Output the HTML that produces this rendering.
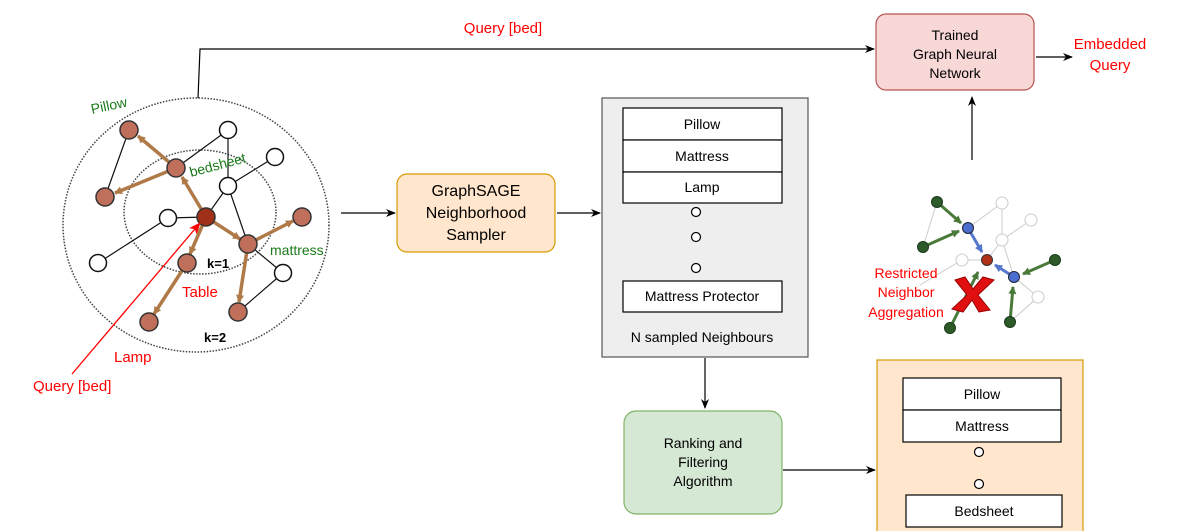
<!DOCTYPE html>
<html><head><meta charset="utf-8"><style>
body{margin:0;width:1196px;height:531px;background:#fff;overflow:hidden;font-family:"Liberation Sans",Arial,sans-serif}
svg{position:absolute;left:0;top:0}
</style></head><body>
<svg width="1196" height="531" viewBox="0 0 1196 531" font-family="Liberation Sans, Arial, sans-serif">
<defs>
<marker id="a" markerWidth="10" markerHeight="10" refX="9" refY="5" orient="auto" markerUnits="userSpaceOnUse"><path d="M0,1 L10,5 L0,9 L3,5z" fill="#000"/></marker>
<marker id="r" markerWidth="12" markerHeight="12" refX="11" refY="6" orient="auto" markerUnits="userSpaceOnUse"><path d="M0,1 L12,6 L0,11 L3,6z" fill="#f00"/></marker>
<marker id="b" markerWidth="8" markerHeight="8" refX="7" refY="4" orient="auto" markerUnits="userSpaceOnUse"><path d="M0,0 L8,4 L0,8z" fill="#b07a48"/></marker>
<marker id="g" markerWidth="8" markerHeight="8" refX="7" refY="4" orient="auto" markerUnits="userSpaceOnUse"><path d="M0,0 L8,4 L0,8z" fill="#4a7a3a"/></marker>
<marker id="u" markerWidth="8" markerHeight="8" refX="7" refY="4" orient="auto" markerUnits="userSpaceOnUse"><path d="M0,0 L8,4 L0,8z" fill="#5577cc"/></marker>
</defs>
<!-- left graph -->
<ellipse cx="196" cy="225" rx="133" ry="127" fill="none" stroke="#444" stroke-width="1.5" stroke-dasharray="1.5,1.5"/>
<ellipse cx="200" cy="212" rx="76" ry="62" fill="none" stroke="#444" stroke-width="1.5" stroke-dasharray="1.5,1.5"/>
<g stroke="#111" stroke-width="1.2">
<line x1="129" y1="130" x2="105" y2="197"/><line x1="176" y1="168" x2="228" y2="130"/><line x1="228" y1="130" x2="228" y2="186"/><line x1="228" y1="186" x2="275" y2="157"/><line x1="228" y1="186" x2="206" y2="217"/><line x1="228" y1="186" x2="248" y2="244"/><line x1="168" y1="218" x2="206" y2="217"/><line x1="168" y1="218" x2="98" y2="263"/><line x1="248" y1="244" x2="283" y2="273"/><line x1="283" y1="273" x2="238" y2="312"/>
</g>
<g stroke="#b07a48" stroke-width="3.5" marker-end="url(#b)">
<line x1="206" y1="217" x2="182" y2="177"/><line x1="176" y1="168" x2="138" y2="136"/><line x1="176" y1="168" x2="115" y2="193"/><line x1="206" y1="217" x2="240" y2="239"/><line x1="248" y1="244" x2="293" y2="221"/><line x1="248" y1="244" x2="239" y2="302"/><line x1="206" y1="217" x2="190" y2="254"/><line x1="187" y1="263" x2="154" y2="314"/>
</g>
<g stroke="#333" stroke-width="1.5" fill="#c0705a">
<circle cx="129" cy="130" r="9"/><circle cx="176" cy="168" r="9"/><circle cx="105" cy="197" r="9"/><circle cx="302" cy="217" r="9"/><circle cx="248" cy="244" r="9"/><circle cx="187" cy="263" r="9"/><circle cx="149" cy="322" r="9"/><circle cx="238" cy="312" r="9"/>
</g>
<circle cx="206" cy="217" r="9" fill="#a0301a" stroke="#333" stroke-width="1.5"/>
<g stroke="#111" stroke-width="1.5" fill="#fff">
<circle cx="228" cy="130" r="8.5"/><circle cx="275" cy="157" r="8.5"/><circle cx="228" cy="186" r="8.5"/><circle cx="168" cy="218" r="8.5"/><circle cx="98" cy="263" r="8.5"/><circle cx="283" cy="273" r="8.5"/>
</g>
<text x="92" y="114" fill="#1a7a1a" font-size="14" transform="rotate(-12 92 114)">Pillow</text>
<text x="191" y="177" fill="#1a7a1a" font-size="14" transform="rotate(-15 191 177)">bedsheet</text>
<text x="270" y="255" fill="#1a7a1a" font-size="14">mattress</text>
<text x="207" y="268" font-size="13" font-weight="bold">k=1</text>
<text x="204" y="342" font-size="13" font-weight="bold">k=2</text>
<text x="182" y="297" fill="#f00" font-size="15">Table</text>
<text x="114" y="362" fill="#f00" font-size="15">Lamp</text>
<text x="33" y="391" fill="#f00" font-size="15">Query [bed]</text>
<line x1="72" y1="374" x2="200" y2="223" stroke="#f00" stroke-width="1.3" marker-end="url(#r)"/>
<!-- query line -->
<polyline points="198,98 200,49 874,49" fill="none" stroke="#000" stroke-width="1.2" marker-end="url(#a)"/>
<text x="503" y="33" fill="#f00" font-size="15" text-anchor="middle">Query [bed]</text>
<!-- boxes -->
<rect x="876" y="14" width="158" height="76" rx="10" fill="#f8d7d7" stroke="#b85450" stroke-width="1.2"/>
<text x="955" y="40" font-size="14" text-anchor="middle">Trained</text>
<text x="955" y="59" font-size="14" text-anchor="middle">Graph Neural</text>
<text x="955" y="78" font-size="14" text-anchor="middle">Network</text>
<text x="1110" y="49" fill="#f00" font-size="15" text-anchor="middle">Embedded</text>
<text x="1110" y="70" fill="#f00" font-size="15" text-anchor="middle">Query</text>
<line x1="1036" y1="57" x2="1072" y2="57" stroke="#000" stroke-width="1.2" marker-end="url(#a)"/>
<line x1="972" y1="160" x2="972" y2="97" stroke="#000" stroke-width="1.2" marker-end="url(#a)"/>
<rect x="397" y="174" width="158" height="78" rx="10" fill="#ffe6cc" stroke="#d79b00" stroke-width="1.2"/>
<text x="476" y="196" font-size="16" text-anchor="middle">GraphSAGE</text>
<text x="476" y="218" font-size="16" text-anchor="middle">Neighborhood</text>
<text x="476" y="240" font-size="16" text-anchor="middle">Sampler</text>
<line x1="341" y1="213" x2="395" y2="213" stroke="#000" stroke-width="1.2" marker-end="url(#a)"/>
<line x1="557" y1="213" x2="600" y2="213" stroke="#000" stroke-width="1.2" marker-end="url(#a)"/>
<rect x="602" y="98" width="206" height="259" fill="#eeeeee" stroke="#555" stroke-width="1.2"/>
<g fill="#fff" stroke="#000" stroke-width="1.2">
<rect x="623" y="108" width="159" height="32"/><rect x="623" y="140" width="159" height="32"/><rect x="623" y="172" width="159" height="31"/><rect x="623" y="281" width="159" height="31"/>
<circle cx="696" cy="212" r="4.5"/><circle cx="696" cy="237" r="4.5"/><circle cx="696" cy="268" r="4.5"/>
</g>
<g font-size="14" text-anchor="middle">
<text x="702" y="129">Pillow</text><text x="702" y="161">Mattress</text><text x="702" y="192">Lamp</text><text x="702" y="301">Mattress Protector</text>
<text x="702" y="342">N sampled Neighbours</text>
</g>
<line x1="705" y1="358" x2="705" y2="408" stroke="#000" stroke-width="1.2" marker-end="url(#a)"/>
<rect x="624" y="411" width="158" height="103" rx="12" fill="#d5e8d4" stroke="#82b366" stroke-width="1.2"/>
<g font-size="14" text-anchor="middle"><text x="703" y="448">Ranking and</text><text x="703" y="467">Filtering</text><text x="703" y="486">Algorithm</text></g>
<line x1="783" y1="470" x2="875" y2="470" stroke="#000" stroke-width="1.2" marker-end="url(#a)"/>
<rect x="877" y="360" width="206" height="180" fill="#ffe6cc" stroke="#d79b00" stroke-width="1.2"/>
<g fill="#fff" stroke="#000" stroke-width="1.2">
<rect x="903" y="378" width="158" height="32"/><rect x="903" y="410" width="158" height="32"/><rect x="906" y="495" width="156" height="32"/>
<circle cx="979" cy="452" r="4.5"/><circle cx="979" cy="484" r="4.5"/>
</g>
<g font-size="14" text-anchor="middle"><text x="982" y="399">Pillow</text><text x="982" y="431">Mattress</text><text x="984" y="516">Bedsheet</text></g>
<!-- right graph -->
<g stroke="#ccc" stroke-width="1" fill="none">
<line x1="937" y1="202" x2="923" y2="247"/><line x1="968" y1="228" x2="1002" y2="203"/><line x1="1002" y1="203" x2="1002" y2="240"/><line x1="1002" y1="240" x2="1031" y2="220"/><line x1="1002" y1="240" x2="987" y2="260"/><line x1="1002" y1="240" x2="1014" y2="277"/><line x1="962" y1="260" x2="987" y2="260"/><line x1="962" y1="260" x2="920" y2="285"/><line x1="1014" y1="277" x2="1038" y2="297"/><line x1="1038" y1="297" x2="1010" y2="322"/>
</g>
<g stroke="#4a7a3a" stroke-width="3" marker-end="url(#g)">
<line x1="937" y1="202" x2="961" y2="223"/><line x1="923" y1="247" x2="959" y2="231"/><line x1="1055" y1="260" x2="1023" y2="274"/><line x1="1010" y1="322" x2="1013" y2="287"/><line x1="950" y1="328" x2="978" y2="272"/>
</g>
<g stroke="#5577cc" stroke-width="3" marker-end="url(#u)">
<line x1="968" y1="228" x2="982" y2="252"/><line x1="1014" y1="277" x2="995" y2="265"/>
</g>
<g fill="#fff" stroke="#ccc" stroke-width="1"><circle cx="1002" cy="203" r="6"/><circle cx="1031" cy="220" r="6"/><circle cx="1002" cy="240" r="6"/><circle cx="962" cy="260" r="6"/><circle cx="1038" cy="297" r="6"/></g>
<g fill="#2e5a2a" stroke="#1a3a1a"><circle cx="937" cy="202" r="5.5"/><circle cx="923" cy="247" r="5.5"/><circle cx="1010" cy="322" r="5.5"/><circle cx="950" cy="328" r="5.5"/><circle cx="1055" cy="260" r="5.5"/></g>
<g fill="#4a6fd0" stroke="#223"><circle cx="968" cy="228" r="5.5"/><circle cx="1014" cy="277" r="5.5"/></g>
<circle cx="987" cy="260" r="5.5" fill="#b03018" stroke="#333"/>
<path d="M955,280 L965,277 L973,289 L983,277 L994,280 L978,295 L990,310 L979,312 L972,300 L963,312 L952,309 L967,295z" fill="#e01010" stroke="#900" stroke-width="1"/>
<g font-size="14" fill="#f00" text-anchor="middle"><text x="906" y="278">Restricted</text><text x="906" y="297">Neighbor</text><text x="906" y="317">Aggregation</text></g>
</svg>
</body></html>
